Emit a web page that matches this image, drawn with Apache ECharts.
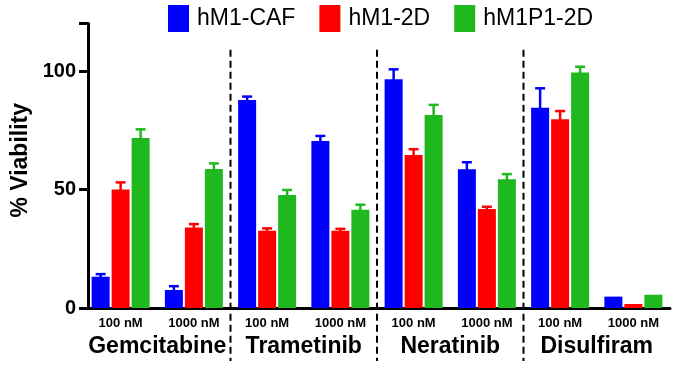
<!DOCTYPE html>
<html>
<head>
<meta charset="utf-8">
<script src="https://cdn.jsdelivr.net/npm/echarts@6/dist/echarts.min.js"></script>
<style>
html, body { margin: 0; padding: 0; background: #fff; }
#chart { width: 700px; height: 368px; }
</style>
</head>
<body>
<div id="chart"></div>
<script>
// data
var doses = ['100 nM', '1000 nM', '100 nM', '1000 nM', '100 nM', '1000 nM', '100 nM', '1000 nM'];
var drugs = ['Gemcitabine', 'Trametinib', 'Neratinib', 'Disulfiram'];
var seriesNames = ['hM1-CAF', 'hM1-2D', 'hM1P1-2D'];
var cafMean = [13.2, 7.6, 87.8, 70.5, 96.5, 58.5, 84.5, 4.8];
var cafTop  = [14.3, 9.2, 89.2, 72.6, 100.7, 61.5, 92.7, 4.8];
var m2dMean = [50.0, 34.0, 32.6, 32.6, 64.6, 41.8, 79.6, 1.7];
var m2dTop  = [53.0, 35.4, 33.6, 33.4, 67.0, 42.7, 83.1, 1.7];
var p1Mean  = [71.7, 58.6, 47.7, 41.5, 81.4, 54.3, 99.4, 5.6];
var p1Top   = [75.4, 61.0, 49.8, 43.6, 85.7, 56.5, 101.8, 5.6];
var dividers = [1, 3, 5]; // line after these categories

var colors = ['#0000ff', '#ff0000', '#1fb81f'];
var barW = 18, barGap = 2;
var font = '"Liberation Sans", Arial, Helvetica, sans-serif';

var myChart = echarts.init(document.getElementById('chart'));

function barSeries(k, means) {
    return {
        name: seriesNames[k],
        type: 'bar',
        barWidth: barW,
        barGap: (barGap / barW * 100) + '%',
        itemStyle: { color: colors[k] },
        data: means
    };
}

function errSeries(k, means, tops) {
    var data = [];
    for (var i = 0; i < means.length; i++) data.push([i, means[i], tops[i]]);
    return {
        name: 'err' + k,
        type: 'custom',
        z: 5,
        encode: { x: 0, y: [1, 2] },
        renderItem: function (params, api) {
            var i = api.value(0);
            var base = api.coord([i, api.value(1)]);
            var top = api.coord([i, api.value(2)]);
            var x = base[0] + (k - 1) * (barW + barGap);
            if (base[1] - top[1] < 1) return { type: 'group', children: [] };
            var st = { stroke: colors[k], lineWidth: 2.5 };
            return {
                type: 'group',
                children: [
                    { type: 'line', shape: { x1: x, y1: base[1] + 1, x2: x, y2: top[1] }, style: st },
                    { type: 'line', shape: { x1: x - 5, y1: top[1], x2: x + 5, y2: top[1] }, style: st }
                ]
            };
        },
        data: data
    };
}

var option = {
    animation: false,
    backgroundColor: '#fff',
    textStyle: { fontFamily: font },
    legend: {
        data: seriesNames,
        left: 168,
        top: 5,
        padding: 0,
        icon: 'rect',
        itemWidth: 21,
        itemHeight: 27,
        itemGap: 24,
        textStyle: { fontSize: 23, color: '#000', fontFamily: font, padding: [0, 0, 0, 3] }
    },
    grid: { left: 84, right: 30, top: 23.6, bottom: 60, containLabel: false },
    xAxis: [
        {
            type: 'category',
            data: doses,
            axisLine: { lineStyle: { color: '#000', width: 3 } },
            axisTick: { alignWithLabel: true, length: 6, lineStyle: { color: '#000', width: 3 } },
            axisLabel: { color: '#000', fontSize: 13, fontWeight: 'bold', margin: 9, interval: 0 }
        },
        {
            type: 'category',
            position: 'bottom',
            data: drugs,
            axisLine: { show: false },
            axisTick: { show: false },
            axisLabel: { color: '#000', fontSize: 23, fontWeight: 'bold', margin: 27, interval: 0 }
        }
    ],
    yAxis: {
        type: 'value',
        min: 0,
        max: 120,
        interval: 50,
        offset: -4,
        name: '% Viability',
        nameLocation: 'middle',
        nameGap: 54,
        nameTextStyle: { color: '#000', fontSize: 23, fontWeight: 'bold', fontFamily: font, padding: [0, 0, 0, 11] },
        splitLine: { show: false },
        axisLine: { show: true, lineStyle: { color: '#000', width: 3 } },
        axisTick: { show: true, length: 9, lineStyle: { color: '#000', width: 3 } },
        axisLabel: {
            color: '#000', fontSize: 20, fontWeight: 'bold', margin: 12,
            formatter: function (v) { return v > 100 ? '' : v; }
        }
    },
    series: [
        barSeries(0, cafMean),
        barSeries(1, m2dMean),
        barSeries(2, p1Mean),
        errSeries(0, cafMean, cafTop),
        errSeries(1, m2dMean, m2dTop),
        errSeries(2, p1Mean, p1Top),
        {
            name: 'dividers',
            type: 'custom',
            clip: false,
            z: 6,
            encode: { x: 0, y: 1 },
            renderItem: function (params, api) {
                var i = api.value(0);
                var a = api.coord([i, 0]);
                var b = api.coord([i + 1, 0]);
                var x = (a[0] + b[0]) / 2;
                var yTop = api.coord([i, 109])[1];
                return {
                    type: 'line',
                    shape: { x1: x, y1: yTop, x2: x, y2: a[1] + 53 },
                    style: { stroke: '#000', lineWidth: 2, lineDash: [7, 4] }
                };
            },
            data: dividers.map(function (d) { return [d, 0]; })
        }
    ]
};

myChart.setOption(option);
</script>
</body>
</html>
